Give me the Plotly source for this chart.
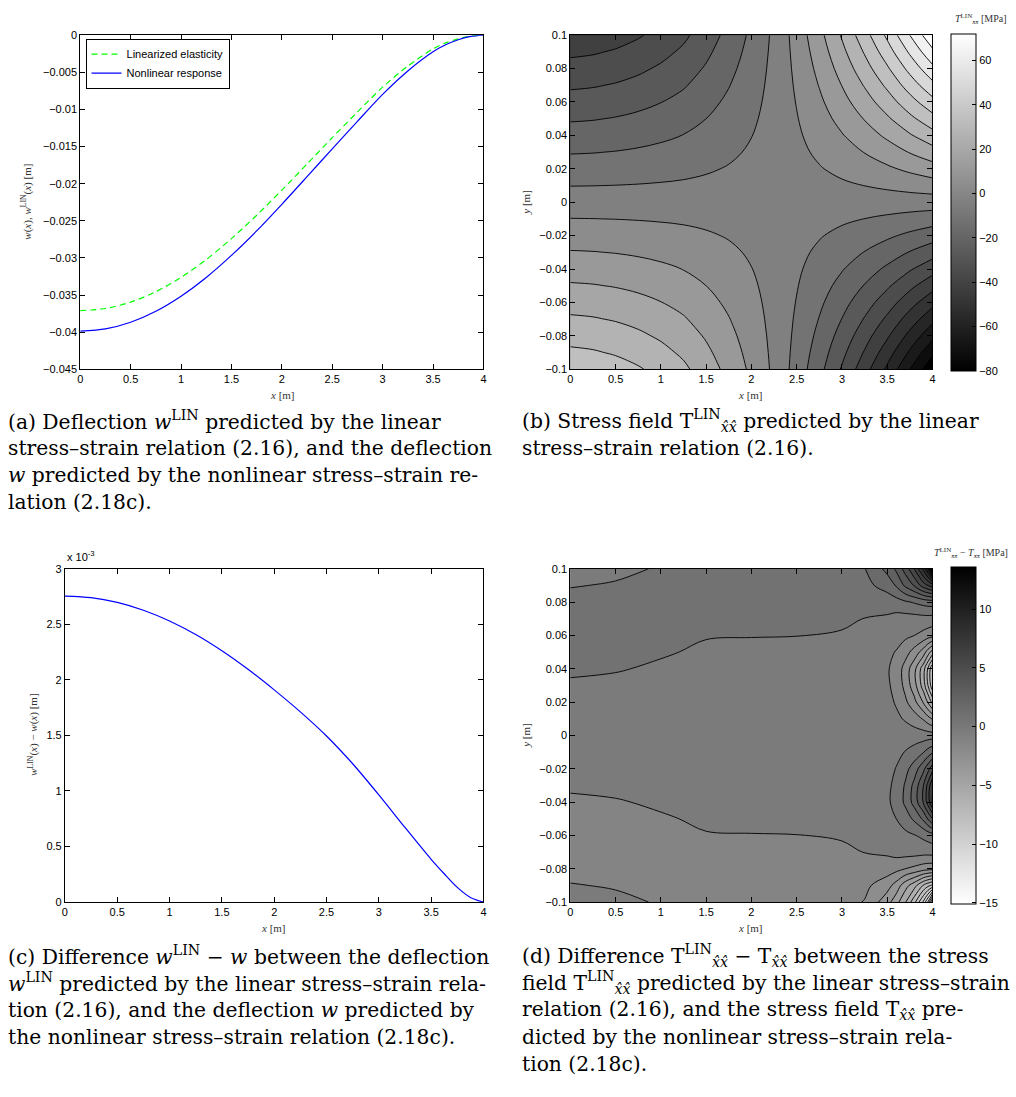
import numpy as np
import plotly.graph_objects as go

W, H = 1016, 1097

# ---------------- beam deflection along the span ----------------
x_pos = [0.0, 0.25, 0.5, 0.75, 1.0, 1.25, 1.5, 1.75, 2.0, 2.25, 2.5, 2.75, 3.0, 3.25, 3.5,
         3.625, 3.75, 3.875, 4.0]
w_linearized = [-0.03710, -0.03681, -0.03596, -0.03455, -0.03262, -0.03022, -0.02740, -0.02426,
                -0.02087, -0.01735, -0.01380, -0.01035, -0.00700, -0.00415, -0.00185,
                -0.00104, -0.00049, -0.00013, 0.0]
w_nonlinear = [-0.03985, -0.03955, -0.03866, -0.03718, -0.03515, -0.03263, -0.02966, -0.02636,
               -0.02278, -0.01906, -0.01530, -0.01160, -0.00797, -0.00482, -0.00224,
               -0.00130, -0.00062, -0.00017, 0.0]
w_difference = [0.002754, 0.002740, 0.002697, 0.002627, 0.002530, 0.002408, 0.002262, 0.002095,
                0.001910, 0.001712, 0.001495, 0.001245, 0.000965, 0.000672, 0.000385,
                0.000255, 0.000132, 0.000042, 0.0]

# ---------------- linear stress field T_LIN [MPa] ----------------
# fibre stress at the top (y = 0.1) and bottom (y = -0.1) faces, every 0.25 m
stress_x = [0.0, 0.25, 0.5, 0.75, 1.0, 1.25, 1.5, 1.75, 2.0, 2.25, 2.5, 2.75, 3.0, 3.25, 3.5, 3.75, 4.0]
stress_top = [-52, -51, -49, -46, -42, -37, -30, -22, -13, -3, 9, 22, 36, 51, 67, 85, 103]
stress_bottom = [52, 51, 49, 46, 42, 37, 30, 22, 13, 3, -9, -22, -36, -51, -67, -85, -103]
depth_y = [-0.10, -0.09, -0.08, -0.07, -0.06, -0.05, -0.04, -0.03, -0.02, -0.01, 0.0,
           0.01, 0.02, 0.03, 0.04, 0.05, 0.06, 0.07, 0.08, 0.09, 0.10]

# ---------------- stress difference T_LIN - T [MPa] ----------------
diff_x = [0.0, 0.5, 1.0, 1.5, 2.0, 2.5, 3.0, 3.25, 3.5, 3.6, 3.7, 3.8, 3.9, 3.95, 4.0]
diff_field = [
    [-.35, -.42, -.53, -.64, -.72, -.78, -1.15, -1.55, -3.1, -4.1, -5.4, -7.2, -9.7, -11.6, -15.1],
    [-.48, -.53, -.61, -.65, -.69, -.72, -.86, -1.25, -2.1, -2.9, -4.1, -5.1, -6.6, -7.2, -7.7],
    [-.62, -.66, -.66, -.63, -.64, -.65, -.68, -.80, -1.0, -1.2, -1.5, -1.75, -2.05, -2.15, -2.2],
    [-.72, -.73, -.67, -.59, -.58, -.58, -.56, -.49, -.35, -.15, -.1, -.1, -.15, -.15, -.1],
    [-.74, -.72, -.62, -.52, -.51, -.505, -.47, -.33, .05, .14, .27, .45, .72, .9, 1.08],
    [-.68, -.64, -.54, -.44, -.43, -.43, -.40, -.24, .27, .5, 1.0, 1.7, 2.7, 3.6, 4.5],
    [-.57, -.53, -.44, -.36, -.35, -.35, -.32, -.21, .36, .77, 1.71, 2.9, 4.6, 5.95, 7.6],
    [-.44, -.40, -.33, -.27, -.26, -.26, -.24, -.17, .32, .72, 1.62, 2.8, 4.5, 5.85, 7.4],
    [-.30, -.27, -.22, -.18, -.17, -.17, -.16, -.12, .18, .54, 1.17, 2.0, 3.25, 4.15, 5.2],
    [-.15, -.13, -.11, -.09, -.08, -.08, -.08, -.06, .05, .27, .54, .9, 1.45, 1.9, 2.35],
    [0, 0, 0, 0, 0, 0, 0, 0, 0, 0, 0, 0, 0, 0, 0],
    [.15, .13, .11, .09, .08, .08, .08, .06, -.05, -.3, -.6, -1.0, -1.6, -2.1, -2.6],
    [.30, .27, .22, .18, .17, .17, .16, .12, -.2, -.6, -1.3, -2.2, -3.6, -4.6, -5.8],
    [.44, .40, .33, .27, .26, .26, .24, .17, -.35, -.8, -1.8, -3.1, -5.0, -6.5, -8.2],
    [.57, .53, .44, .36, .35, .35, .32, .21, -.4, -.85, -1.9, -3.2, -5.1, -6.6, -8.4],
    [.68, .64, .54, .44, .43, .43, .40, .24, -.3, -.55, -1.1, -1.9, -3.0, -4.0, -5.0],
    [.74, .72, .62, .52, .51, .505, .47, .33, -.05, -.15, -.3, -.5, -.8, -1.0, -1.2],
    [.72, .73, .67, .59, .58, .58, .56, .49, .35, .15, .1, .1, .15, .15, .1],
    [.62, .66, .66, .63, .64, .65, .68, .80, .95, 1.1, 1.35, 1.6, 1.85, 1.95, 2.0],
    [.48, .53, .61, .65, .69, .72, .86, 1.2, 1.9, 2.6, 3.7, 4.6, 6.0, 6.5, 7.0],
    [.35, .42, .53, .64, .72, .78, 1.15, 1.45, 2.8, 3.7, 4.9, 6.5, 8.8, 10.5, 13.6],
]

# linear through-depth distribution between the bottom and top fibre stresses
frac = (np.array(depth_y) + 0.1) / 0.2
stress_lin = np.array(stress_bottom)[None, :] + np.outer(frac, np.array(stress_top) - np.array(stress_bottom))

GRAY = [[0, "black"], [1, "white"]]
GRAY_REV = [[0, "white"], [1, "black"]]
SANS = "Liberation Sans, Arial, sans-serif"
SERIF = "Liberation Serif, Times New Roman, serif"
CAPTION_FONT = "DejaVu Serif, serif"


def px_x(p):
    return p / W


def px_y(p):
    return 1 - p / H


fig = go.Figure()

# (a) deflections
fig.add_trace(go.Scatter(x=x_pos, y=w_linearized, mode="lines", name="Linearized elasticity",
                         line=dict(color="#00ff00", width=1.2, dash="6px,4px", shape="spline", smoothing=0.8),
                         xaxis="x", yaxis="y"))
fig.add_trace(go.Scatter(x=x_pos, y=w_nonlinear, mode="lines", name="Nonlinear response",
                         line=dict(color="#0000ff", width=1.2, shape="spline", smoothing=0.8),
                         xaxis="x", yaxis="y"))

# (b) linear stress field
fig.add_trace(go.Contour(x=stress_x, y=depth_y, z=stress_lin, xaxis="x2", yaxis="y2",
                         contours=dict(start=-95, end=95, size=10, coloring="fill"),
                         colorscale=GRAY, line=dict(color="black", width=0.9, smoothing=1),
                         showscale=False, hoverinfo="skip"))

# (c) deflection difference
fig.add_trace(go.Scatter(x=x_pos, y=w_difference, mode="lines", showlegend=False,
                         line=dict(color="#0000ff", width=1.2, shape="spline", smoothing=0.8),
                         xaxis="x3", yaxis="y3"))

# (d) stress difference
fig.add_trace(go.Contour(x=diff_x, y=depth_y, z=diff_field, xaxis="x4", yaxis="y4",
                         contours=dict(start=-14.5, end=13.5, size=1, coloring="fill"),
                         colorscale=GRAY_REV, line=dict(color="black", width=0.9, smoothing=1),
                         showscale=False, hoverinfo="skip"))


def colorbar_trace(xa, ya, cmin, cmax, scale, ticks, ycenter):
    return go.Scatter(
        x=[None], y=[None], mode="markers", xaxis=xa, yaxis=ya, showlegend=False, hoverinfo="skip",
        marker=dict(color=[cmin, cmax], cmin=cmin, cmax=cmax, colorscale=scale, showscale=True,
                    colorbar=dict(thickness=25, thicknessmode="pixels", len=337, lenmode="pixels",
                                  x=px_x(954), xanchor="left", xref="paper",
                                  y=px_y(ycenter), yanchor="middle", yref="paper",
                                  xpad=0, ypad=0, outlinewidth=1, outlinecolor="black",
                                  tickvals=ticks, ticks="inside", ticklen=4, tickcolor="black",
                                  tickfont=dict(family=SANS, size=11, color="black"))))


fig.add_trace(colorbar_trace("x2", "y2", -80, 72, GRAY, [-80, -60, -40, -20, 0, 20, 40, 60], 198.6))
fig.add_trace(colorbar_trace("x4", "y4", -15.1, 13.6, GRAY_REV, [-15, -10, -5, 0, 5, 10], 737.5))

axis_common = dict(showline=True, linecolor="black", linewidth=1, mirror="ticks", ticks="inside",
                   ticklen=5, tickcolor="black", showgrid=False, zeroline=False,
                   tickfont=dict(family=SANS, size=11, color="black"))

dom_top = [px_y(367.3), px_y(29.5)]
dom_bot = [px_y(906), px_y(569)]
diff_ticks = [0, 0.0005, 0.001, 0.0015, 0.002, 0.0025, 0.003]
diff_ticktext = ["0", "0.5", "1", "1.5", "2", "2.5", "3"]

fig.update_layout(
    width=W, height=H, autosize=False,
    margin=dict(l=0, r=0, t=0, b=0),
    paper_bgcolor="white", plot_bgcolor="white",
    xaxis=dict(domain=[px_x(77.7), px_x(483.3)], range=[0, 4], dtick=0.5, anchor="y", **axis_common),
    yaxis=dict(domain=dom_top, range=[-0.045, 0], dtick=0.005, anchor="x", **axis_common),
    xaxis2=dict(domain=[px_x(570.7), px_x(935)], range=[0, 4], dtick=0.5, anchor="y2", **axis_common),
    yaxis2=dict(domain=dom_top, range=[-0.1, 0.1], dtick=0.02, anchor="x2", **axis_common),
    xaxis3=dict(domain=[px_x(62.3), px_x(483.3)], range=[0, 4], dtick=0.5, anchor="y3", **axis_common),
    yaxis3=dict(domain=dom_bot, range=[0, 0.003], tickvals=diff_ticks, ticktext=diff_ticktext,
                anchor="x3", **axis_common),
    xaxis4=dict(domain=[px_x(570.7), px_x(935)], range=[0, 4], dtick=0.5, anchor="y4", **axis_common),
    yaxis4=dict(domain=dom_bot, range=[-0.1, 0.1], dtick=0.02, anchor="x4", **axis_common),
    legend=dict(x=px_x(83), y=px_y(33), xanchor="left", yanchor="top", xref="paper", yref="paper",
                bordercolor="black", borderwidth=1, bgcolor="white", tracegroupgap=0,
                font=dict(family=SANS, size=11, color="black"), itemwidth=30),
)

annotations = []


def note(text, xp, yp, size=11, family=SERIF, color="#333333", xanchor="center", angle=0):
    annotations.append(dict(text=text, x=px_x(xp), y=px_y(yp), xref="paper", yref="paper",
                            showarrow=False, xanchor=xanchor, yanchor="middle", textangle=angle,
                            font=dict(family=family, size=size, color=color)))


# axis titles
note("<i>x</i> [m]", 281, 393)
note("<i>x</i> [m]", 752, 393)
note("<i>x</i> [m]", 272, 932)
note("<i>x</i> [m]", 752, 932)
note("<i>w</i>(<i>x</i>), <i>w</i><sup>LIN</sup>(<i>x</i>) [m]", 24, 198, angle=-90)
note("<i>y</i> [m]", 526, 198, angle=-90)
note("<i>w</i><sup>LIN</sup>(<i>x</i>) − <i>w</i>(<i>x</i>) [m]", 31, 737, angle=-90)
note("<i>y</i> [m]", 526, 737, angle=-90)
note("x 10<sup>-3</sup>", 62, 556, size=11, family=SANS, color="black", xanchor="left")

# colour bar titles
note("<i>T</i><sup>LIN</sup><sub><i>x̂x̂</i></sub> [MPa]", 1012, 13, size=10, xanchor="right")
note("<i>T</i><sup>LIN</sup><sub><i>x̂x̂</i></sub> − <i>T</i><sub><i>x̂x̂</i></sub> [MPa]", 1013, 553,
     size=10, xanchor="right")

# sub-figure captions
cap = dict(size=20.3, family=CAPTION_FONT, color="black", xanchor="left")
cap_a = ["(a) Deflection <i>w</i><sup>LIN</sup> predicted by the linear",
         "stress–strain relation (2.16), and the deflection",
         "<i>w</i> predicted by the nonlinear stress–strain re-",
         "lation (2.18c)."]
cap_b = ["(b) Stress field T<sup>LIN</sup><sub><i>x̂x̂</i></sub> predicted by the linear",
         "stress–strain relation (2.16)."]
cap_c = ["(c) Difference <i>w</i><sup>LIN</sup> − <i>w</i> between the deflection",
         "<i>w</i><sup>LIN</sup> predicted by the linear stress–strain rela-",
         "tion (2.16), and the deflection <i>w</i> predicted by",
         "the nonlinear stress–strain relation (2.18c)."]
cap_d = ["(d) Difference T<sup>LIN</sup><sub><i>x̂x̂</i></sub> − T<sub><i>x̂x̂</i></sub> between the stress",
         "field T<sup>LIN</sup><sub><i>x̂x̂</i></sub> predicted by the linear stress–strain",
         "relation (2.16), and the stress field T<sub><i>x̂x̂</i></sub> pre-",
         "dicted by the nonlinear stress–strain rela-",
         "tion (2.18c)."]

for i, line in enumerate(cap_a):
    note(line, 3, 419 + 27.4 * i, **cap)
for i, line in enumerate(cap_b):
    note(line, 520, 419 + 27.4 * i, **cap)
for i, line in enumerate(cap_c):
    note(line, 3, 960 + 27.4 * i, **cap)
for i, line in enumerate(cap_d):
    note(line, 520, 960 + 27.4 * i, **cap)

fig.update_layout(annotations=annotations)
fig.write_html("out.html")
